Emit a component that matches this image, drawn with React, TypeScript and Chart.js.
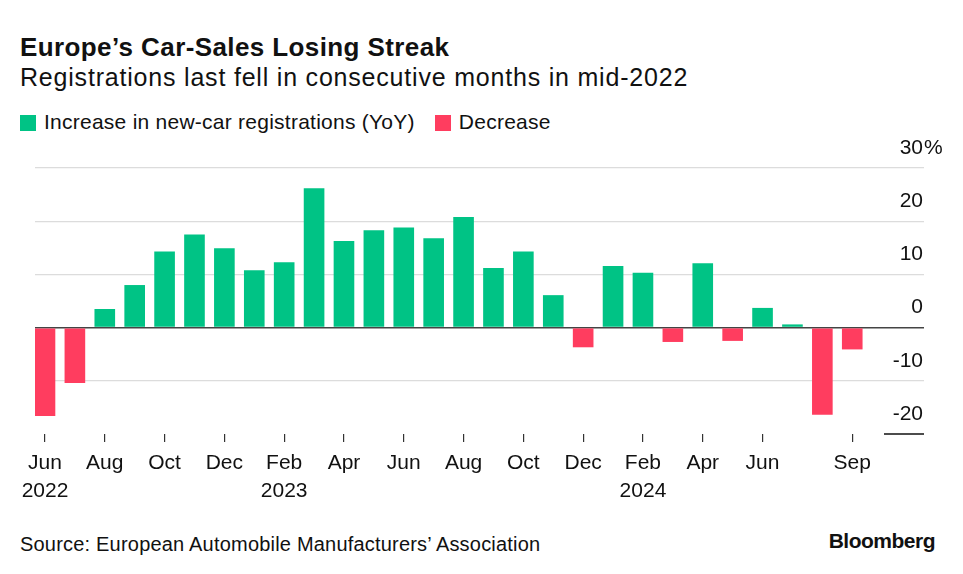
import React, { useEffect, useRef } from "react";
import { Chart, registerables } from "chart.js";

Chart.register(...registerables);

// ---- data ----
const months = [
  "Jun 2022", "Jul 2022", "Aug 2022", "Sep 2022", "Oct 2022", "Nov 2022", "Dec 2022",
  "Jan 2023", "Feb 2023", "Mar 2023", "Apr 2023", "May 2023", "Jun 2023", "Jul 2023",
  "Aug 2023", "Sep 2023", "Oct 2023", "Nov 2023", "Dec 2023", "Jan 2024", "Feb 2024",
  "Mar 2024", "Apr 2024", "May 2024", "Jun 2024", "Jul 2024", "Aug 2024", "Sep 2024",
];
const values = [
  -16.6, -10.4, 3.5, 8.0, 14.3, 17.5, 14.9,
  10.8, 12.3, 26.2, 16.3, 18.3, 18.8, 16.8,
  20.8, 11.2, 14.3, 6.1, -3.7, 11.6, 10.3,
  -2.7, 12.1, -2.5, 3.7, 0.6, -16.4, -4.1,
];
const xTickIndices = [0, 2, 4, 6, 8, 10, 12, 14, 16, 18, 20, 22, 24, 27];
const xTickLabels = [
  ["Jun", "2022"], ["Aug"], ["Oct"], ["Dec"], ["Feb", "2023"], ["Apr"], ["Jun"],
  ["Aug"], ["Oct"], ["Dec"], ["Feb", "2024"], ["Apr"], ["Jun"], ["Sep"],
];
const yTickValues = [30, 20, 10, 0, -10, -20];
const legendItems = ["Increase in new-car registrations (YoY)", "Decrease"];

const GREEN = "#00c385";
const RED = "#ff3d5f";
const FONT = "'Liberation Sans', Arial, sans-serif";

const yLabelPlugin = {
  id: "yLabels",
  afterDraw(chart: any) {
    const { ctx, chartArea } = chart;
    const y = chart.scales.y;
    ctx.save();
    ctx.font = `21px ${FONT}`;
    ctx.fillStyle = "#111";
    ctx.textBaseline = "middle";
    yTickValues.forEach((v) => {
      const py = y.getPixelForValue(v) - 20;
      const xr = chartArea.right - 1;
      ctx.textAlign = "right";
      ctx.fillText(String(v), xr, py);
      if (v === yTickValues[0]) {
        ctx.textAlign = "left";
        ctx.fillText("%", xr + 1, py);
      }
    });
    // short baseline under the axis labels at the min value
    const pyMin = y.getPixelForValue(yTickValues[yTickValues.length - 1]);
    ctx.strokeStyle = "#111";
    ctx.lineWidth = 1.5;
    ctx.beginPath();
    ctx.moveTo(chartArea.right - 40, pyMin);
    ctx.lineTo(chartArea.right, pyMin);
    ctx.stroke();
    ctx.restore();
  },
};

export default function App() {
  const canvasRef = useRef<HTMLCanvasElement | null>(null);

  useEffect(() => {
    document.body.style.margin = "0";
    const canvas = canvasRef.current;
    if (!canvas) return;
    const chart = new Chart(canvas, {
      type: "bar",
      data: {
        datasets: [
          {
            label: "YoY",
            data: values.map((v, i) => ({ x: i, y: v })),
            backgroundColor: values.map((v) => (v >= 0 ? GREEN : RED)),
            borderWidth: 0,
            categoryPercentage: 1,
            barPercentage: 0.69,
          },
        ],
      },
      options: {
        animation: false,
        responsive: false,
        maintainAspectRatio: false,
        layout: { padding: { left: 35, right: 39, top: 38, bottom: 0 } },
        plugins: { legend: { display: false }, tooltip: { enabled: false } },
        scales: {
          x: {
            type: "linear",
            offset: false,
            min: -0.334,
            max: 29.4,
            afterBuildTicks: (scale: any) => {
              scale.ticks = xTickIndices.map((v) => ({ value: v }));
            },
            afterFit: (scale: any) => {
              scale.height = 86;
            },
            border: { display: false },
            grid: {
              offset: false,
              drawOnChartArea: false,
              drawTicks: true,
              tickLength: 8,
              color: "#333",
              lineWidth: 1.2,
            },
            ticks: {
              autoSkip: false,
              maxRotation: 0,
              padding: 8,
              color: "#111",
              font: { family: FONT, size: 21, lineHeight: 1.3 },
              callback: (value: any) => {
                const idx = xTickIndices.indexOf(Number(value));
                return idx >= 0 ? xTickLabels[idx] : "";
              },
            },
          },
          y: {
            type: "linear",
            position: "right",
            min: -20,
            max: 30,
            afterBuildTicks: (scale: any) => {
              scale.ticks = yTickValues.map((v) => ({ value: v }));
            },
            afterFit: (scale: any) => {
              scale.width = 0;
            },
            border: { display: false },
            grid: {
              drawTicks: false,
              color: (c: any) =>
                c.tick && c.tick.value === 0
                  ? "#444"
                  : c.tick && c.tick.value === -20
                  ? "rgba(0,0,0,0)"
                  : "#dcdcdc",
              lineWidth: (c: any) => (c.tick && c.tick.value === 0 ? 1.6 : 1.2),
            },
            ticks: { display: false },
          },
        },
      },
      plugins: [yLabelPlugin],
    });
    return () => chart.destroy();
  }, []);

  const sq = (color: string) => ({
    display: "inline-block",
    width: 16,
    height: 16,
    background: color,
    marginRight: 8,
    verticalAlign: "-2px",
  });

  return (
    <div
      style={{
        position: "relative",
        width: 963,
        height: 574,
        background: "#fff",
        fontFamily: FONT,
        color: "#111",
        overflow: "hidden",
      }}
    >
      <div style={{ position: "absolute", left: 20, top: 32, fontSize: 26, fontWeight: 700, lineHeight: "30px", letterSpacing: "0.4px", whiteSpace: "nowrap" }}>
        Europe’s Car-Sales Losing Streak
      </div>
      <div style={{ position: "absolute", left: 20, top: 63, fontSize: 25, lineHeight: "28px", letterSpacing: "0.8px", whiteSpace: "nowrap" }}>
        Registrations last fell in consecutive months in mid-2022
      </div>
      <div style={{ position: "absolute", left: 20, top: 110, fontSize: 21, lineHeight: "24px", letterSpacing: "0.25px", whiteSpace: "nowrap" }}>
        <span style={sq(GREEN)} />
        <span style={{ marginRight: 20 }}>{legendItems[0]}</span>
        <span style={sq(RED)} />
        <span>{legendItems[1]}</span>
      </div>
      <canvas
        ref={canvasRef}
        width={963}
        height={390}
        style={{ position: "absolute", left: 0, top: 130, width: 963, height: 390 }}
      />
      <div style={{ position: "absolute", left: 20, top: 532, fontSize: 20, lineHeight: "24px", letterSpacing: "0.2px", whiteSpace: "nowrap" }}>
        Source: European Automobile Manufacturers’ Association
      </div>
      <div style={{ position: "absolute", right: 28, top: 529, fontSize: 21, fontWeight: 700, lineHeight: "24px", letterSpacing: "-0.5px" }}>
        Bloomberg
      </div>
    </div>
  );
}
